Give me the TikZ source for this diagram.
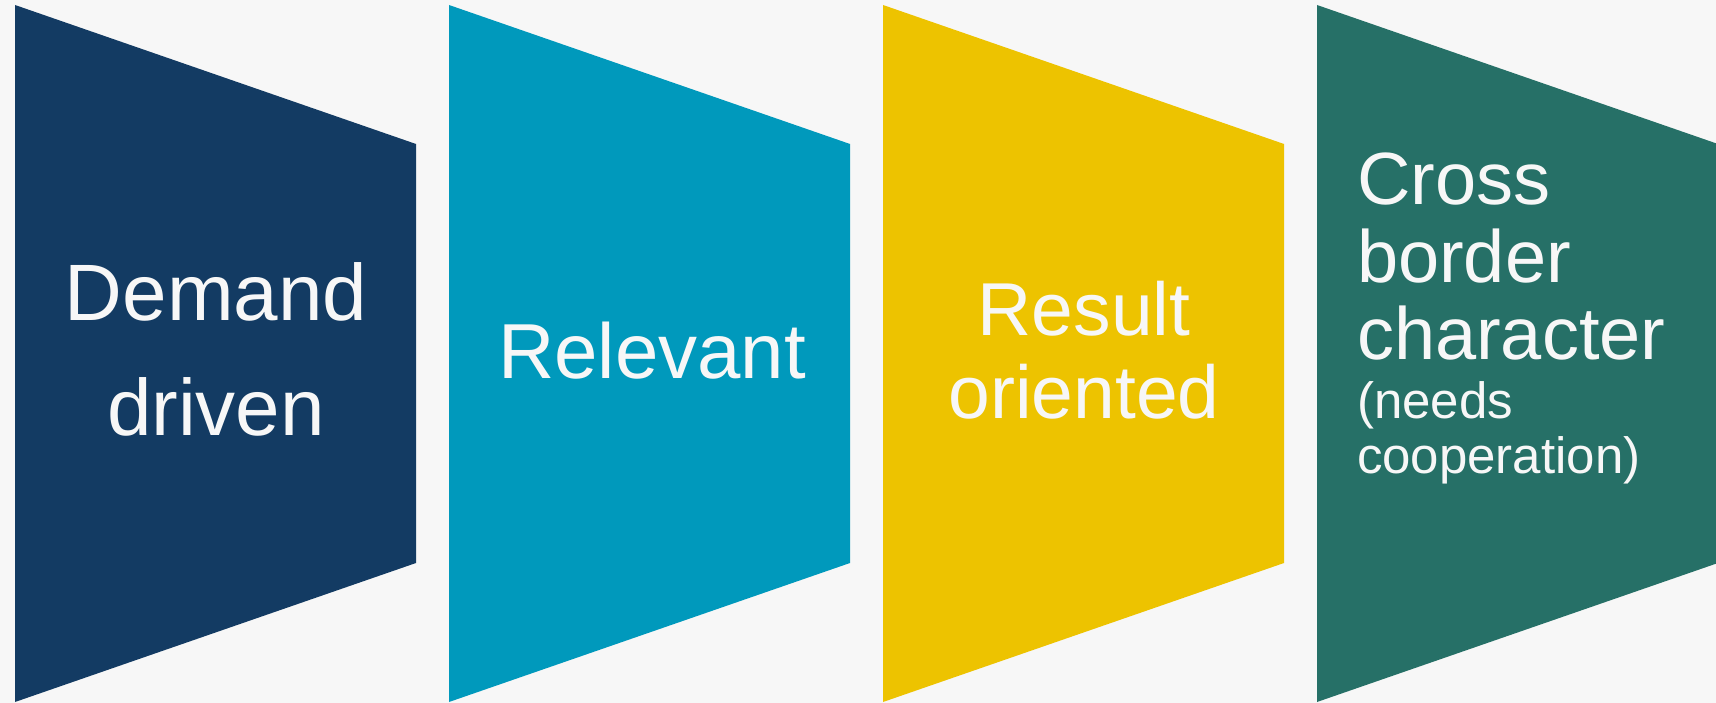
\documentclass[tikz,border=0pt]{standalone}
\usepackage{fontspec}
\setmainfont{Liberation Sans}
\definecolor{bg}{RGB}{247,247,247}
\definecolor{cA}{RGB}{19,59,99}
\definecolor{cB}{RGB}{0,153,188}
\definecolor{cC}{RGB}{237,195,0}
\definecolor{cD}{RGB}{38,112,103}
\tikzset{
  label/.style={text=bg, inner sep=0pt, outer sep=0pt},
  panel/.style={fill=#1, draw=none}
}
\begin{document}
\begin{tikzpicture}[x=1pt,y=-1pt]
\fill[bg] (0,0) rectangle (1716,703);
\useasboundingbox (0,0) rectangle (1716,703);
\foreach \dx/\col in {0/cA,434/cB,868/cC,1302/cD}{
  \fill[panel=\col] (15+\dx,5) -- (416+\dx,144) -- (416+\dx,563) -- (15+\dx,702) -- cycle;
}
% base anchor of a multi-line node = baseline of its last line
\node[label, anchor=base, align=center, font=\fontsize{80}{115}\selectfont] (t1) at (216,435.7) {Demand\\driven};
\node[label, anchor=base, font=\fontsize{78}{90}\selectfont] (t2) at (652,378.3) {Relevant};
\node[label, anchor=base, align=center, font=\fontsize{75}{82.6}\selectfont] (t3) at (1084,418.3) {Result\\oriented};
\node[label, anchor=base west, align=left, font=\fontsize{74}{77}\selectfont] (t4) at (1357,359) {Cross\\border\\character};
\node[label, anchor=base west, align=left, font=\fontsize{51}{55}\selectfont] (t5) at (1357,473) {(needs\\cooperation)};
\end{tikzpicture}
\end{document}
